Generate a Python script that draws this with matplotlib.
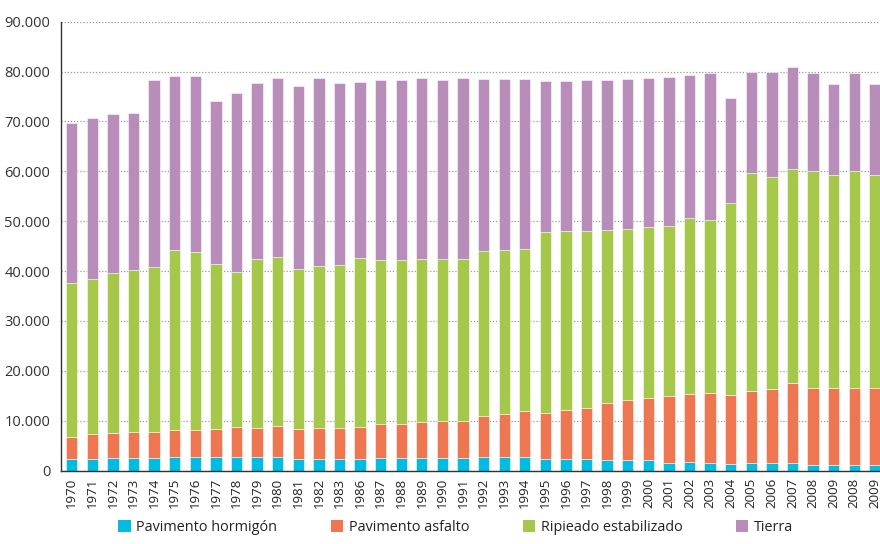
import matplotlib
matplotlib.use("Agg")
import matplotlib.pyplot as plt
from matplotlib.patches import Patch
from matplotlib.ticker import FuncFormatter
from matplotlib import font_manager
import numpy as np

years = ["1970", "1971", "1972", "1973", "1974", "1975", "1976", "1977", "1978", "1979",
         "1980", "1981", "1982", "1983", "1986", "1987", "1988", "1989", "1990", "1991",
         "1992", "1993", "1994", "1995", "1996", "1997", "1998", "1999", "2000", "2001",
         "2002", "2003", "2004", "2005", "2006", "2007", "2008", "2009", "2008", "2009"]

hormigon = [2300, 2370, 2450, 2450, 2450, 2650, 2650, 2650, 2770, 2650,
            2650, 2250, 2310, 2310, 2310, 2450, 2450, 2570, 2570, 2570,
            2710, 2710, 2770, 2250, 2250, 2250, 2110, 2110, 2050, 1560,
            1640, 1560, 1300, 1440, 1440, 1500, 1160, 1100, 1160, 1100]

asfalto = [4470, 5010, 5130, 5210, 5330, 5410, 5410, 5610, 5890, 5930,
           6210, 6170, 6270, 6270, 6480, 6940, 6940, 7220, 7420, 7420,
           8280, 8680, 9220, 9340, 9940, 10380, 11430, 11970, 12550, 13430,
           13750, 14040, 13900, 14560, 14840, 16040, 15440, 15500, 15440, 15500]

ripieado = [30760, 30960, 31960, 32480, 33080, 36150, 35690, 33080, 31080, 33770,
            33950, 32080, 32360, 32560, 33760, 32760, 32760, 32560, 32480, 32480,
            32960, 32760, 32420, 36170, 35770, 35330, 34750, 34410, 34170, 33970,
            35170, 34690, 38380, 43590, 42630, 42910, 43510, 42590, 43510, 42590]

tierra = [32140, 32340, 31880, 31480, 37430, 34890, 35410, 32800, 35950, 35410,
          35950, 36650, 37810, 36610, 35290, 36210, 36150, 36290, 35890, 36290,
          34490, 34290, 34150, 30400, 30200, 30280, 30080, 30010, 29930, 29870,
          28730, 29410, 21050, 20250, 20990, 20510, 19530, 18370, 19530, 18370]

series_names = ["Pavimento hormigón", "Pavimento asfalto", "Ripieado estabilizado", "Tierra"]
colors = ["#00BCE3", "#EE7650", "#A6C84A", "#B88DBA"]

available = {f.name for f in font_manager.fontManager.ttflist}
narrow = "Liberation Sans Narrow" in available
if narrow:
    plt.rcParams['font.family'] = ['Liberation Sans Narrow', 'DejaVu Sans']
    ysize, xsize, lsize, colsp = 12, 11, 12.5, 3.6
else:
    plt.rcParams['font.family'] = ['Open Sans', 'DejaVu Sans']
    ysize, xsize, lsize, colsp = 10.5, 9.5, 10.4, 3.7

fig = plt.figure(figsize=(8.8, 5.44), dpi=100)
ax = fig.add_axes([0.0697, 0.1351, 0.9303, 0.825])

x = np.arange(len(years))
data = [hormigon, asfalto, ripieado, tierra]
bottom = np.zeros(len(years))
for vals, c in zip(data, colors):
    v = np.array(vals, dtype=float)
    ax.bar(x, v, bottom=bottom, width=0.55, color=c, edgecolor=(1, 1, 1, 0.6),
           linewidth=0.6, zorder=2)
    bottom += v

ax.set_ylim(0, 90000)
ax.set_xlim(-0.505, 39.25)
ax.set_yticks(np.arange(0, 90001, 10000))
ax.yaxis.set_major_formatter(FuncFormatter(lambda v, p: f"{int(v):,}".replace(",", ".")))
ax.set_xticks(x)
ax.set_xticklabels(years, rotation=90, fontsize=xsize, color="#222222")
ax.tick_params(axis='y', length=0, pad=8, labelsize=ysize, labelcolor="#333333")
ax.tick_params(axis='x', length=0, pad=5)

ax.grid(axis='y', linestyle=(0, (1, 1.5)), color="#9a9a9a", linewidth=0.9, zorder=0)
ax.set_axisbelow(True)
for s in ["top", "right"]:
    ax.spines[s].set_visible(False)
ax.spines["left"].set_color("#333333")
ax.spines["bottom"].set_color("#333333")
ax.spines["left"].set_linewidth(1.0)
ax.spines["bottom"].set_linewidth(1.0)

handles = [Patch(facecolor=c, edgecolor='none') for c in colors]
fig.legend(handles, series_names, loc="center", bbox_to_anchor=(0.518, 0.030), ncol=4,
           frameon=False, fontsize=lsize, handlelength=0.85, handleheight=0.85,
           handletextpad=0.4, columnspacing=colsp, labelcolor="#222222")

fig.savefig("out.png", dpi=100)
